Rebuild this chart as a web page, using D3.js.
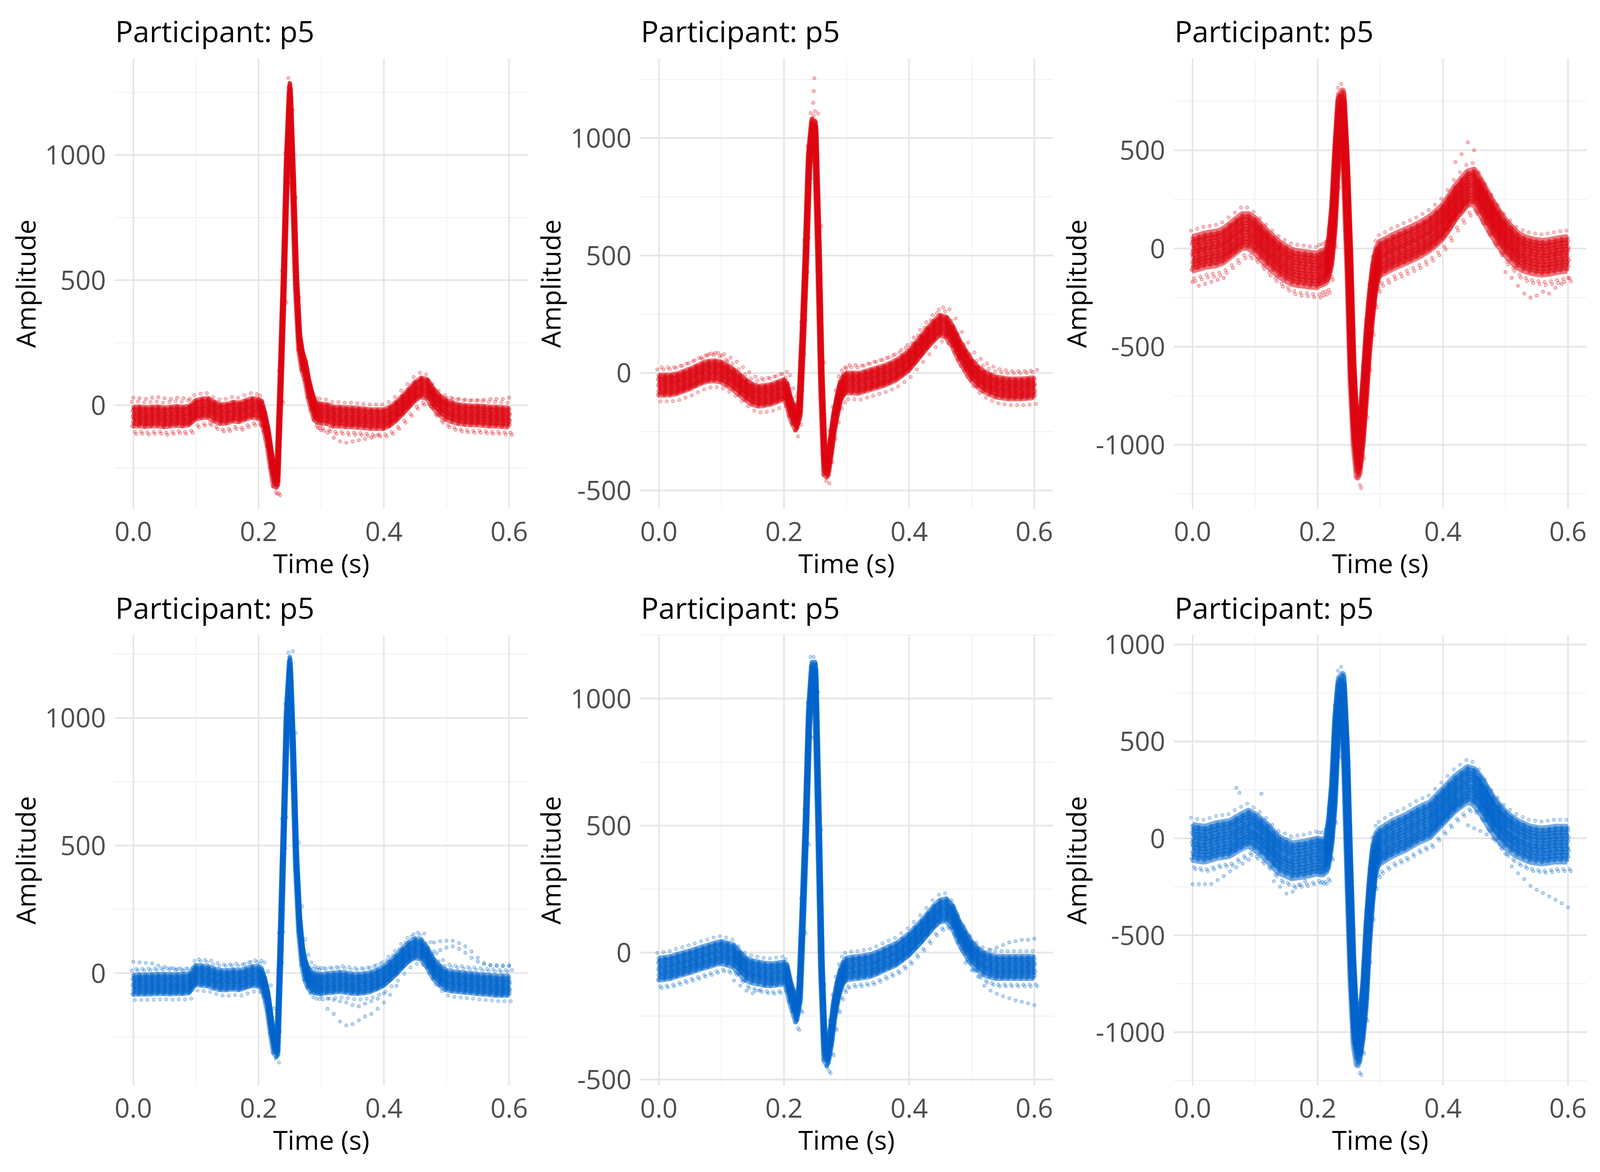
<!DOCTYPE html>
<html>
<head>
<meta charset="utf-8">
<script src="https://cdn.jsdelivr.net/npm/d3@7"></script>
<style>
  html, body { margin: 0; padding: 0; background: #fff; overflow: hidden; }
  #chart { display: block; width: 100vw; height: 100vh; }
  text { font-family: "Open Sans", "Noto Sans", sans-serif; }
</style>
</head>
<body>
<svg id="chart" viewBox="0 0 4500 3000" preserveAspectRatio="none"></svg>
<script>
// ECG beats overlaid per panel, participant p5
// red = top row, blue = bottom row

// sample times (s), finer around the QRS complex
const times = [0.00,0.01,0.02,0.03,0.04,0.05,0.06,0.07,0.08,0.09,0.10,0.11,0.12,0.13,0.14,0.15,0.16,0.17,0.18,0.19,
  0.200,0.205,0.210,0.215,0.220,0.225,0.230,0.235,0.240,0.245,0.250,0.255,0.260,0.265,0.270,0.275,0.280,0.285,0.290,0.295,0.300,
  0.31,0.32,0.33,0.34,0.35,0.36,0.37,0.38,0.39,0.40,0.41,0.42,0.43,0.44,0.45,0.46,0.47,0.48,0.49,0.50,
  0.51,0.52,0.53,0.54,0.55,0.56,0.57,0.58,0.59,0.60];

// typical beat per panel
const amp1 = [-45,-44,-47,-45,-44,-48,-45,-42,-45,-40,-18,-12,-10,-25,-35,-33,-25,-28,-18,-10,
  -14,-20,-65,-125,-210,-285,-290,80,480,950,1250,900,500,260,180,140,70,20,-20,-30,-32,
  -35,-45,-45,-48,-48,-50,-52,-55,-55,-55,-45,-25,0,27,55,72,65,27,0,-18,
  -28,-35,-38,-40,-40,-42,-45,-45,-47,-48];
const amp2 = [-51,-51,-50,-45,-35,-25,-12,0,8,10,5,-10,-27,-50,-72,-90,-98,-95,-90,-80,
  -70,-85,-140,-175,-200,-150,150,500,900,1040,1030,550,-30,-390,-400,-310,-210,-140,-80,-55,-42,
  -42,-43,-35,-27,-19,-11,0,13,32,53,85,117,150,180,204,196,157,100,55,13,
  -15,-35,-48,-59,-63,-67,-67,-67,-65,-62];
const amp3 = [-27,-18,-8,-3,2,15,40,65,90,90,69,35,2,-27,-55,-75,-93,-100,-103,-108,
  -110,-100,-95,-85,-20,150,450,700,720,400,-40,-600,-920,-1080,-930,-720,-480,-300,-160,-80,-50,
  -35,-17,-3,11,25,40,58,78,105,135,180,231,270,307,317,269,210,155,105,59,
  25,-8,-25,-36,-42,-46,-42,-36,-30,-27];
const amp4 = [-46,-45,-45,-44,-43,-43,-44,-43,-43,-40,-8,-10,-13,-22,-28,-28,-25,-28,-20,-12,
  -13,-20,-55,-110,-200,-275,-290,100,550,1000,1200,880,450,200,70,10,-20,-35,-40,-42,-43,
  -40,-38,-35,-38,-42,-43,-40,-35,-25,-13,8,31,58,82,97,93,60,16,-10,-28,
  -33,-35,-38,-40,-43,-45,-47,-50,-50,-50];
const amp5 = [-65,-62,-58,-50,-43,-36,-28,-20,-13,-5,1,-5,-13,-40,-65,-75,-80,-85,-87,-84,
  -80,-90,-150,-190,-230,-160,150,500,920,1100,1100,560,-50,-380,-400,-330,-230,-160,-110,-80,-65,
  -60,-58,-54,-50,-40,-28,-17,-6,12,31,57,83,112,142,164,169,142,83,40,1,
  -25,-43,-52,-58,-58,-58,-58,-58,-58,-58];
const amp6 = [-19,-25,-29,-20,-10,-5,0,20,38,54,35,10,-19,-55,-87,-100,-115,-110,-106,-98,
  -90,-95,-95,-80,30,220,560,740,760,420,-150,-660,-980,-1080,-970,-800,-500,-280,-120,-60,-40,
  -20,0,15,29,48,67,82,96,130,163,197,231,255,279,269,231,178,125,85,48,
  22,0,-15,-29,-34,-38,-34,-29,-29,-29];

// individual beats around the typical beat: time shift (s) and amplitude shift
const beatDt = [-0.0015, 0.0008, -0.0006, 0.0014, 0, -0.001, 0.0005, 0.0011, -0.0013, 0.0003, -0.0003];
const spread1 = [-38,-29,-22,-14,-7,0,8,14,23,30,37];
const spread2 = [-42,-33,-25,-16,-8,0,9,17,24,34,41];
const spread3 = [-82,-64,-47,-33,-15,0,17,31,49,63,80];
const spread4 = [-37,-30,-21,-15,-7,0,7,15,22,29,38];
const spread5 = [-43,-34,-24,-17,-9,0,8,16,25,33,42];
const spread6 = [-86,-67,-52,-33,-18,0,16,35,50,69,84];

// looser beats drawn as points only
const looseDt = [0.0025, -0.0025, 0.0045];
const loose1 = [-62, 58, -70];
const loose2 = [-70, 66, 75];
const loose3 = [-125, 118, -140];
const loose4 = [-60, 56, 62];
const loose5 = [-68, 64, -75];
const loose6 = [-130, 125, -140];

// beats that leave the main band: [times, values]
const odd1 = [
  [[0,0.01,0.02,0.03,0.04,0.05,0.06,0.07,0.08,0.09], [30,28,25,30,32,28,25,30,28,25]],
  [[0.30,0.31,0.32,0.33,0.34,0.35,0.36,0.37,0.38,0.39,0.40,0.41,0.42], [-80,-110,-130,-145,-150,-145,-140,-135,-130,-120,-95,-60,-40]],
  [[0.50,0.51,0.52,0.53,0.54,0.55,0.56,0.57,0.58,0.59,0.60], [30,25,25,22,20,20,22,25,25,25,30]]
];
const odd2 = [
  [[0.07,0.08,0.09,0.10,0.11], [60,80,85,75,50]],
  [[0.2465,0.2475,0.2485], [1150,1200,1255]]
];
const odd3 = [
  [[0,0.01,0.02,0.03,0.04,0.05], [-170,-190,-180,-170,-160,-150]],
  [[0.50,0.51,0.52,0.53,0.54,0.55,0.56,0.57,0.58,0.59,0.60], [-120,-150,-190,-230,-250,-240,-220,-230,-200,-180,-150]],
  [[0.42,0.43,0.44,0.45], [440,480,540,500]]
];
const odd4 = [
  [[0,0.01,0.02,0.03,0.04,0.05,0.06,0.07,0.08], [45,42,40,38,30,25,20,15,10]],
  [[0.30,0.31,0.32,0.33,0.34,0.35,0.36,0.37,0.38,0.39,0.40,0.41,0.42], [-60,-140,-160,-190,-205,-200,-185,-170,-160,-140,-115,-85,-50]],
  [[0.30,0.31,0.32,0.33,0.34,0.35,0.36,0.37,0.38,0.39,0.40], [-90,-100,-105,-110,-115,-125,-130,-120,-110,-100,-80]],
  [[0.47,0.48,0.49,0.50,0.51,0.52,0.53,0.54,0.55,0.56,0.57,0.58,0.59,0.60], [100,120,125,127,127,118,105,85,60,40,32,31,30,30]],
  [[0.47,0.48,0.49,0.50,0.51,0.52,0.53,0.54,0.55,0.56,0.57,0.58,0.59,0.60], [80,85,90,100,105,95,80,60,45,35,30,28,28,28]]
];
const odd5 = [
  [[0.12,0.13,0.14,0.15,0.16,0.17,0.18], [-110,-130,-150,-160,-150,-130,-110]],
  [[0.49,0.50,0.51,0.52,0.53,0.54,0.55,0.56,0.57,0.58,0.59,0.60], [-40,-70,-95,-131,-150,-162,-172,-180,-188,-194,-200,-207]],
  [[0.53,0.54,0.55,0.56,0.57,0.58,0.59,0.60], [10,20,30,40,45,50,50,55]]
];
const odd6 = [
  [[0,0.01,0.02,0.03,0.04,0.05,0.06,0.07,0.08,0.09], [-237,-237,-237,-235,-215,-195,-170,-150,-130,-110]],
  [[0.13,0.14,0.15,0.16,0.17,0.18], [-221,-250,-285,-275,-240,-221]],
  [[0.07,0.075,0.11], [260,235,230]],
  [[0.44,0.45,0.46,0.47,0.48,0.49,0.50,0.51,0.52,0.53,0.54,0.55,0.56,0.57,0.58,0.59,0.60],
   [67,52,38,20,0,-30,-80,-145,-180,-210,-245,-265,-282,-300,-317,-335,-356]]
];

// axis limits per panel (ggplot expanded ranges)
const yLimits = [[-415,1387],[-579,1340],[-1327,969],[-441,1326],[-524,1251],[-1276,1050]];
const xTicks = [0, 0.2, 0.4, 0.6];
const xMinor = [0.1, 0.3, 0.5];

const RED = '#DC0510';
const BLUE = '#0064CC';

const panels = [
  {amp: amp1, spread: spread1, loose: loose1, odd: odd1, color: RED},
  {amp: amp2, spread: spread2, loose: loose2, odd: odd2, color: RED},
  {amp: amp3, spread: spread3, loose: loose3, odd: odd3, color: RED},
  {amp: amp4, spread: spread4, loose: loose4, odd: odd4, color: BLUE},
  {amp: amp5, spread: spread5, loose: loose5, odd: odd5, color: BLUE},
  {amp: amp6, spread: spread6, loose: loose6, odd: odd6, color: BLUE}
];

// layout in a 4500 x 3000 frame
const colX0 = [375, 1853, 3354];     // where t = 0 sits
const colX1 = [1432, 2909, 4410];    // where t = 0.6 sits
const colYLab = [100, 1576, 3055];   // baseline of rotated "Amplitude"
const rowTop = [149, 1625];
const rowBot = [1303, 2779];
const traceWidth = [13, 14, 20, 13, 14, 20];

// the frame is stretched to the window; keep glyphs and dots round
const sx = window.innerWidth / 4500, sy = window.innerHeight / 3000;
const k = sx / sy;

const svg = d3.select('#chart');
svg.append('rect').attr('width', 4500).attr('height', 3000).attr('fill', '#fff');

function label(g, x, y, str, size, fill, anchor, rot) {
  return g.append('text')
    .attr('transform', `translate(${x},${y}) scale(1,${k})` + (rot ? ` rotate(${rot})` : ''))
    .attr('text-anchor', anchor)
    .attr('font-size', size).attr('fill', fill)
    .text(str);
}

function drawPoints(g, pts, x, y, color, fillOp, strokeOp) {
  g.append('g').selectAll('ellipse').data(pts).join('ellipse')
    .attr('cx', d => x(d[0])).attr('cy', d => y(d[1]))
    .attr('rx', 4.5).attr('ry', 4.5 * k)
    .attr('fill', color).attr('fill-opacity', fillOp)
    .attr('stroke', color).attr('stroke-opacity', strokeOp).attr('stroke-width', 1.6);
}

panels.forEach((p, i) => {
  const col = i % 3, row = Math.floor(i / 3);
  const x = d3.scaleLinear().domain([0, 0.6]).range([colX0[col], colX1[col]]);
  const y = d3.scaleLinear().domain(yLimits[i]).range([rowBot[row], rowTop[row]]);
  const left = x(-0.03), right = x(0.63);
  const top = rowTop[row], bottom = rowBot[row];
  const g = svg.append('g');

  // grid
  const [lo, hi] = yLimits[i];
  const ySteps = d3.range(Math.ceil(lo / 250) * 250, hi + 1, 250);
  const yMajor = ySteps.filter(v => v % 500 === 0);
  const yMinor = ySteps.filter(v => v % 500 !== 0);
  g.selectAll('.ymin').data(yMinor).join('line')
    .attr('x1', left).attr('x2', right)
    .attr('y1', d => y(d)).attr('y2', d => y(d))
    .attr('stroke', '#F0F0F0').attr('stroke-width', 2.2);
  g.selectAll('.xmin').data(xMinor).join('line')
    .attr('x1', d => x(d)).attr('x2', d => x(d))
    .attr('y1', top).attr('y2', bottom)
    .attr('stroke', '#F0F0F0').attr('stroke-width', 2.2);
  g.selectAll('.ymaj').data(yMajor).join('line')
    .attr('x1', left).attr('x2', right)
    .attr('y1', d => y(d)).attr('y2', d => y(d))
    .attr('stroke', '#E5E5E5').attr('stroke-width', 4.2);
  g.selectAll('.xmaj').data(xTicks).join('line')
    .attr('x1', d => x(d)).attr('x2', d => x(d))
    .attr('y1', top).attr('y2', bottom)
    .attr('stroke', '#E5E5E5').attr('stroke-width', 4.2);

  // loose beats first, points only
  p.loose.forEach((dy, b) => {
    const pts = times.map((t, j) => [t + looseDt[b], p.amp[j] + dy]);
    drawPoints(g, pts, x, y, p.color, 0.22, 0.4);
  });

  // stray beats, points only
  p.odd.forEach(([ts, vs]) => {
    drawPoints(g, ts.map((t, j) => [t, vs[j]]), x, y, p.color, 0.25, 0.42);
  });

  // main beats: a trace plus its sample points
  const line = d3.line().x(d => x(d[0])).y(d => y(d[1]));
  p.spread.forEach((dy, b) => {
    const pts = times.map((t, j) => [t + beatDt[b], p.amp[j] + dy]);
    g.append('path').datum(pts)
      .attr('d', line)
      .attr('fill', 'none')
      .attr('stroke', p.color)
      .attr('stroke-opacity', 0.55)
      .attr('stroke-width', traceWidth[i])
      .attr('stroke-linejoin', 'round');
    drawPoints(g, pts, x, y, p.color, 0.35, 0.5);
  });

  // tick labels
  xTicks.forEach(t => label(g, x(t), bottom + 82, d3.format('.1f')(t), 75, '#4D4D4D', 'middle'));
  yMajor.forEach(v => label(g, left - 24, y(v) + 27 * k, String(v), 75, '#4D4D4D', 'end'));

  // titles
  label(g, (left + right) / 2, bottom + 164, 'Time (s)', 75, '#000', 'middle');
  label(g, colYLab[col], (top + bottom) / 2, 'Amplitude', 75, '#000', 'middle', -90);
  label(g, left + 2, top - 41, 'Participant: p5', 83, '#000', 'start');
});
</script>
</body>
</html>
